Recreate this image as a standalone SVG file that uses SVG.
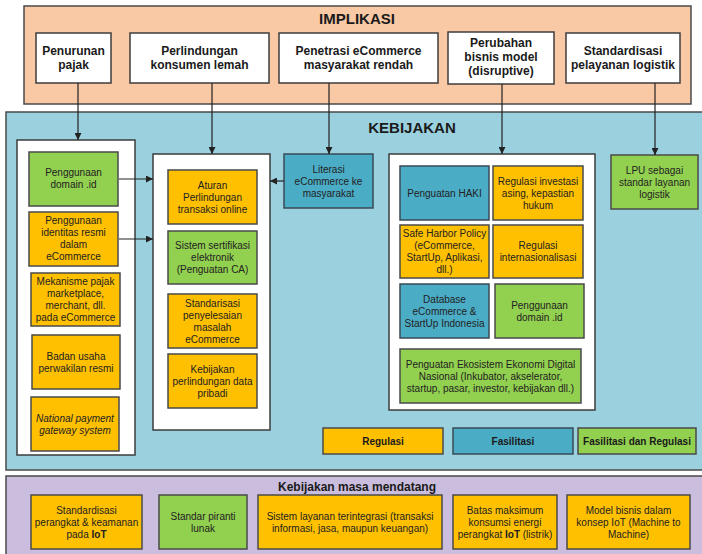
<svg xmlns="http://www.w3.org/2000/svg" width="702" height="554" viewBox="0 0 702 554">
<defs>
<marker id="ah" viewBox="0 0 10 10" refX="10" refY="5" markerWidth="7" markerHeight="7" orient="auto" markerUnits="userSpaceOnUse">
<path d="M0,0 L10,5 L0,10 z" fill="#222"/>
</marker>
<style>
.frame{stroke:#4a4a4a;stroke-width:1.5}
.panel{fill:#fff;stroke:#3d3d3d;stroke-width:1.5}
.top{fill:#fff;stroke:#3d3d3d;stroke-width:1.5}
.o{fill:#FFC000;stroke:#4a4a4a;stroke-width:1.5}
.g{fill:#92D050;stroke:#4a4a4a;stroke-width:1.5}
.b{fill:#4BACC6;stroke:#3a4a55;stroke-width:1.5}
text{font-family:"Liberation Sans",Arial,sans-serif;text-anchor:middle;fill:#222}
.s{font-size:10px}
.h{font-size:12px;font-weight:bold;fill:#1a1a1a}
.ttl{font-size:15px;font-weight:bold;fill:#1a1a1a}
.lg{font-size:10px;font-weight:bold;fill:#1a1a1a}
.conn line{stroke:#222;stroke-width:1.2;marker-end:url(#ah)}
</style>
</defs>
<rect width="702" height="554" fill="#fff"/>

<!-- Frames -->
<g id="implikasi">
<rect x="24" y="6" width="667" height="98" fill="#F9C9A5" class="frame"/>
<text class="ttl" x="357" y="24">IMPLIKASI</text>
</g>
<g id="kebijakan">
<rect x="6" y="112" width="700" height="358" fill="#9BD0DF" class="frame"/>
<text class="ttl" x="412" y="133">KEBIJAKAN</text>
</g>
<g id="masa-mendatang">
<rect x="6" y="476" width="700" height="84" fill="#CABDDD" class="frame"/>
<text class="h" x="357" y="491">Kebijakan masa mendatang</text>
</g>

<!-- Top implication boxes -->
<g id="penurunan-pajak"><rect x="36" y="33" width="75" height="50" class="top"/>
<text class="h" x="73.5" y="55">Penurunan</text><text class="h" x="73.5" y="69">pajak</text></g>
<g id="perlindungan-konsumen"><rect x="130" y="33" width="139" height="50" class="top"/>
<text class="h" x="199.5" y="55">Perlindungan</text><text class="h" x="199.5" y="69">konsumen lemah</text></g>
<g id="penetrasi"><rect x="279" y="33" width="159" height="50" class="top"/>
<text class="h" x="358.5" y="55">Penetrasi eCommerce</text><text class="h" x="358.5" y="69">masyarakat rendah</text></g>
<g id="perubahan"><rect x="448" y="32" width="106" height="52" class="top"/>
<text class="h" x="501" y="47">Perubahan</text><text class="h" x="501" y="61">bisnis model</text><text class="h" x="501" y="75">(disruptive)</text></g>
<g id="standardisasi-logistik"><rect x="566" y="33" width="114" height="50" class="top"/>
<text class="h" x="623" y="55">Standardisasi</text><text class="h" x="623" y="69">pelayanan logistik</text></g>

<!-- Left panel -->
<g id="left-panel"><rect x="17" y="140" width="118" height="315" class="panel"/></g>
<g id="domain-id-left"><rect x="29" y="152" width="89" height="54" class="g"/>
<text class="s" x="73.5" y="176">Penggunaan</text><text class="s" x="73.5" y="188">domain .id</text></g>
<g id="identitas-resmi"><rect x="29" y="212" width="89" height="54" class="o"/>
<text class="s" x="73.5" y="224">Penggunaan</text><text class="s" x="73.5" y="236">identitas resmi</text><text class="s" x="73.5" y="248">dalam</text><text class="s" x="73.5" y="260">eCommerce</text></g>
<g id="mekanisme-pajak"><rect x="31" y="273" width="89" height="53" class="o"/>
<text class="s" x="75.5" y="285">Mekanisme pajak</text><text class="s" x="75.5" y="297">marketplace,</text><text class="s" x="75.5" y="309">merchant, dll.</text><text class="s" x="75.5" y="321">pada eCommerce</text></g>
<g id="badan-usaha"><rect x="32" y="335" width="88" height="54" class="o"/>
<text class="s" x="76" y="359.5">Badan usaha</text><text class="s" x="76" y="371.5">perwakilan resmi</text></g>
<g id="national-payment"><rect x="31" y="397" width="88" height="54" class="o"/>
<text class="s" x="75" y="421.5" font-style="italic">National payment</text><text class="s" x="75" y="433.5" font-style="italic">gateway system</text></g>

<!-- Middle panel -->
<g id="middle-panel"><rect x="153" y="154" width="117" height="276" class="panel"/></g>
<g id="aturan"><rect x="168" y="170" width="89" height="54" class="o"/>
<text class="s" x="212.5" y="188.5">Aturan</text><text class="s" x="212.5" y="200.5">Perlindungan</text><text class="s" x="212.5" y="212.5">transaksi online</text></g>
<g id="sertifikasi"><rect x="168" y="231" width="89" height="53" class="g"/>
<text class="s" x="212.5" y="249">Sistem sertifikasi</text><text class="s" x="212.5" y="261">elektronik</text><text class="s" x="212.5" y="273">(Penguatan CA)</text></g>
<g id="standarisasi-penyelesaian"><rect x="168" y="294" width="89" height="54" class="o"/>
<text class="s" x="212.5" y="306.5">Standarisasi</text><text class="s" x="212.5" y="318.5">penyelesaian</text><text class="s" x="212.5" y="330.5">masalah</text><text class="s" x="212.5" y="342.5">eCommerce</text></g>
<g id="data-pribadi"><rect x="168" y="354" width="89" height="54" class="o"/>
<text class="s" x="212.5" y="372.5">Kebijakan</text><text class="s" x="212.5" y="384.5">perlindungan data</text><text class="s" x="212.5" y="396.5">pribadi</text></g>

<!-- Literasi -->
<g id="literasi"><rect x="284" y="154" width="89" height="54" class="b"/>
<text class="s" x="328.5" y="172.5">Literasi</text><text class="s" x="328.5" y="184.5">eCommerce ke</text><text class="s" x="328.5" y="196.5">masyarakat</text></g>

<!-- Right panel -->
<g id="right-panel"><rect x="389" y="154" width="206" height="256" class="panel"/></g>
<g id="haki"><rect x="400" y="166" width="89" height="54" class="b"/>
<text class="s" x="444.5" y="196.5">Penguatan HAKI</text></g>
<g id="investasi"><rect x="493" y="166" width="90" height="54" class="o"/>
<text class="s" x="538" y="184.5">Regulasi investasi</text><text class="s" x="538" y="196.5">asing, kepastian</text><text class="s" x="538" y="208.5">hukum</text></g>
<g id="safe-harbor"><rect x="400" y="225" width="89" height="53" class="o"/>
<text class="s" x="444.5" y="237">Safe Harbor Policy</text><text class="s" x="444.5" y="249">(eCommerce,</text><text class="s" x="444.5" y="261">StartUp, Aplikasi,</text><text class="s" x="444.5" y="273">dll.)</text></g>
<g id="internasionalisasi"><rect x="493" y="225" width="90" height="53" class="o"/>
<text class="s" x="538" y="249">Regulasi</text><text class="s" x="538" y="261">internasionalisasi</text></g>
<g id="database"><rect x="400" y="284" width="89" height="54" class="b"/>
<text class="s" x="444.5" y="302.5">Database</text><text class="s" x="444.5" y="314.5">eCommerce &amp;</text><text class="s" x="444.5" y="326.5">StartUp Indonesia</text></g>
<g id="domain-id-right"><rect x="495" y="284" width="89" height="54" class="g"/>
<text class="s" x="539.5" y="308.5">Penggunaan</text><text class="s" x="539.5" y="320.5">domain .id</text></g>
<g id="ekosistem"><rect x="400" y="349" width="181" height="54" class="g"/>
<text class="s" x="490.5" y="367.5">Penguatan Ekosistem Ekonomi Digital</text><text class="s" x="490.5" y="379.5">Nasional (Inkubator, akselerator,</text><text class="s" x="490.5" y="391.5">startup, pasar, investor, kebijakan dll.)</text></g>

<!-- LPU -->
<g id="lpu"><rect x="611" y="155" width="87" height="54" class="g"/>
<text class="s" x="654.5" y="173.5">LPU sebagai</text><text class="s" x="654.5" y="185.5">standar layanan</text><text class="s" x="654.5" y="197.5">logistik</text></g>

<!-- Legend -->
<g id="legend-regulasi"><rect x="323" y="428" width="120" height="26" class="o"/><text class="lg" x="383" y="444.5">Regulasi</text></g>
<g id="legend-fasilitasi"><rect x="453" y="428" width="120" height="26" class="b"/><text class="lg" x="513" y="444.5">Fasilitasi</text></g>
<g id="legend-both"><rect x="578" y="428" width="118" height="26" class="g"/><text class="lg" x="637" y="444.5">Fasilitasi dan Regulasi</text></g>

<!-- Future policy boxes -->
<g id="iot-keamanan"><rect x="31" y="495" width="111" height="54" class="o"/>
<text class="s" x="86.5" y="513.5">Standardisasi</text><text class="s" x="86.5" y="525.5">perangkat &amp; keamanan</text><text class="s" x="86.5" y="537.5">pada <tspan font-weight="bold">IoT</tspan></text></g>
<g id="piranti-lunak"><rect x="159" y="495" width="88" height="54" class="g"/>
<text class="s" x="203" y="519.5">Standar piranti</text><text class="s" x="203" y="531.5">lunak</text></g>
<g id="layanan-terintegrasi"><rect x="258" y="495" width="184" height="54" class="o"/>
<text class="s" x="350" y="519.5">Sistem layanan terintegrasi (transaksi</text><text class="s" x="350" y="531.5">informasi, jasa, maupun keuangan)</text></g>
<g id="energi-iot"><rect x="453" y="495" width="104" height="54" class="o"/>
<text class="s" x="505" y="513.5">Batas maksimum</text><text class="s" x="505" y="525.5">konsumsi energi</text><text class="s" x="505" y="537.5">perangkat <tspan font-weight="bold">IoT</tspan> (listrik)</text></g>
<g id="model-bisnis-iot"><rect x="567" y="495" width="123" height="54" class="o"/>
<text class="s" x="628.5" y="513.5">Model bisnis dalam</text><text class="s" x="628.5" y="525.5">konsep IoT (Machine to</text><text class="s" x="628.5" y="537.5">Machine)</text></g>

<!-- Connectors -->
<g id="connectors" class="conn">
<line x1="78" y1="83" x2="78" y2="140"/>
<line x1="212" y1="83" x2="212" y2="154"/>
<line x1="329" y1="83" x2="329" y2="154"/>
<line x1="502" y1="84" x2="502" y2="154"/>
<line x1="655" y1="83" x2="655" y2="155"/>
<line x1="119" y1="179" x2="153" y2="179"/>
<line x1="119" y1="239" x2="153" y2="239"/>
<line x1="284" y1="181" x2="270" y2="181"/>
</g>
</svg>
